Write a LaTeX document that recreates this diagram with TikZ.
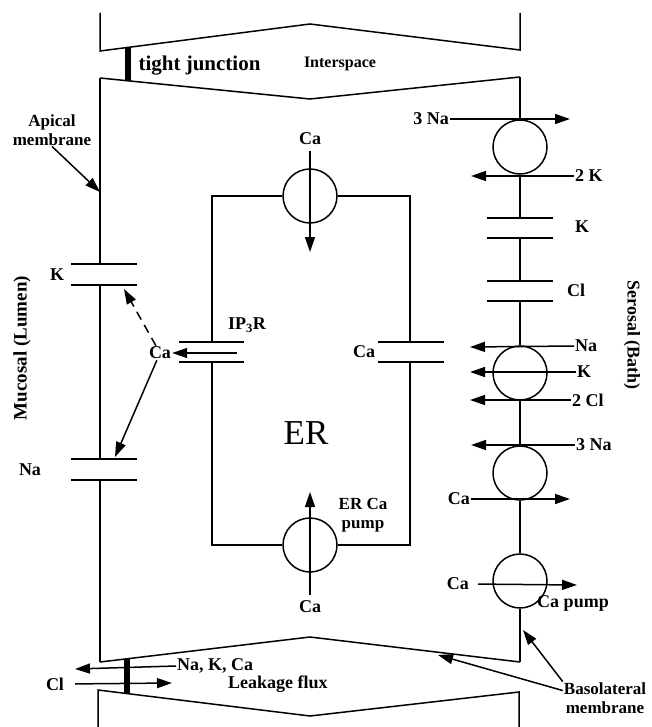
\documentclass[tikz,border=0pt]{standalone}
\usepackage{fontspec}
\setmainfont{Liberation Serif}
\usetikzlibrary{arrows.meta,positioning}
\tikzset{
    membrane/.style={line width=1.5pt},
    junction/.style={line width=5.5pt},
    chanbar/.style={line width=1.5pt},
    pump/.style={circle, draw, line width=1.5pt, minimum size=54pt, inner sep=0pt},
    flux/.style={-{Triangle[length=15pt,width=10pt]}, line width=1.5pt},
    ion/.style={font=\fontsize{18}{19}\selectfont\bfseries, inner sep=1pt},
    twoline/.style={font=\fontsize{17}{18.5}\selectfont\bfseries, inner sep=1pt, align=center}
}

\begin{document}
\begin{tikzpicture}[x=1pt, y=-1pt]
    \useasboundingbox (0,0) rectangle (652,727);

    % Neighbouring cells
    \draw[membrane] (100,13) -- (100,51) -- (310,24) -- (520,50) -- (520,13);
    \draw[membrane] (98,727) -- (98,690) -- (310,716) -- (519,692) -- (519,727);

    % Cell outline, top and bottom
    \draw[membrane] (100,78) -- (310,99) -- (520,77);
    \draw[membrane] (100,662) -- (310,637) -- (520,662);

    % Tight junctions
    \draw[junction] (128,47) -- (128,81);
    \draw[junction] (127,659) -- (127,693);
    \node[font=\fontsize{21}{22}\selectfont\bfseries, anchor=west] (tj) at (135,66) {tight junction};
    \node[font=\fontsize{16}{18}\selectfont\bfseries] (inter) at (340,64) {Interspace};

    % Apical membrane with K and Na channels
    \draw[membrane] (100,78) -- (100,264);
    \draw[chanbar] (71,264) -- (137,264);
    \draw[chanbar] (71,285) -- (137,285);
    \draw[membrane] (100,285) -- (100,459);
    \draw[chanbar] (71,459) -- (137,459);
    \draw[chanbar] (71,480) -- (137,480);
    \draw[membrane] (100,480) -- (100,662);
    \node[ion] (kapi) at (57,275) {K};
    \node[ion] (naapi) at (30,470) {Na};

    % Basolateral membrane with pumps and channels
    \node[pump] (nak) at (520,147) {};
    \node[pump] (nkcc) at (520,373) {};
    \node[pump] (ncx) at (520,473) {};
    \node[pump] (pmca) at (520,581) {};
    \draw[membrane] (520,77) -- (nak.north);
    \draw[membrane] (nak.south) -- (520,218);
    \draw[chanbar] (487,218) -- (553,218);
    \draw[chanbar] (487,238) -- (553,238);
    \draw[membrane] (520,238) -- (520,281);
    \draw[chanbar] (487,281) -- (553,281);
    \draw[chanbar] (487,301) -- (553,301);
    \draw[membrane] (520,301) -- (nkcc.north);
    \draw[membrane] (nkcc.south) -- (ncx.north);
    \draw[membrane] (ncx.south) -- (pmca.north);
    \draw[membrane] (pmca.south) -- (520,662);
    \node[ion] (kbaso) at (582,227) {K};
    \node[ion] (clbaso) at (576,290) {Cl};

    % ER with pumps and channels
    \node[pump] (ertop) at (310,196) {};
    \node[pump] (erbot) at (310,545) {};
    \draw[membrane] (ertop.west) -- (212,196) -- (212,342);
    \draw[chanbar] (179,342) -- (244,342);
    \draw[chanbar] (179,362) -- (244,362);
    \draw[membrane] (212,362) -- (212,545) -- (erbot.west);
    \draw[membrane] (erbot.east) -- (410,545) -- (410,362);
    \draw[chanbar] (378,342) -- (444,342);
    \draw[chanbar] (378,362) -- (444,362);
    \draw[membrane] (410,342) -- (410,196) -- (ertop.east);
    \node[font=\fontsize{35}{36}\selectfont] (er) at (306,433) {ER};
    \node[ion] (ip3r) at (247,325) {IP\textsubscript{3}R};
    \node[ion] (caerch) at (364,352) {Ca};
    \node[twoline] (serca) at (363,515) {ER Ca\\pump};

    % ER Ca fluxes
    \node[ion] (caertop) at (310,139) {Ca};
    \coordinate (ertoptip) at (310,252);
    \draw[flux, shorten <=5pt] (caertop.south) -- (ertoptip);
    \node[ion] (caerbot) at (310,607) {Ca};
    \coordinate (erbottip) at (310,492);
    \draw[flux, shorten <=5pt] (caerbot.north) -- (erbottip);

    % Cytosolic Ca
    \node[ion] (cacyt) at (160,353) {Ca};
    \coordinate (ip3rin) at (237,353);
    \coordinate (kchan) at (124,289);
    \coordinate (nachan) at (115,457);
    \draw[flux] (ip3rin) -- (cacyt.east);
    \draw[flux, dash pattern=on 9pt off 6pt] (cacyt) -- (kchan);
    \draw[flux] (cacyt) -- (nachan);

    % Serosal fluxes
    \node[ion, anchor=east] (na3top) at (450,119) {3 Na};
    \coordinate (na3toptip) at (570,119);
    \draw[flux] (na3top.east) -- (na3toptip);
    \node[ion, anchor=west] (k2) at (574,176) {2 K};
    \coordinate (k2tip) at (471,176);
    \draw[flux] (k2.west) -- (k2tip);
    \node[ion, anchor=west] (nanc) at (574,346) {Na};
    \coordinate (nanctip) at (470,347);
    \draw[flux] (nanc.west) -- (nanctip);
    \node[ion, anchor=west] (knc) at (576,372) {K};
    \coordinate (knctip) at (470,372);
    \draw[flux] (knc.west) -- (knctip);
    \node[ion, anchor=west] (cl2) at (571,400) {2 Cl};
    \coordinate (cl2tip) at (470,400);
    \draw[flux] (cl2.west) -- (cl2tip);
    \node[ion, anchor=west] (na3bot) at (575,445) {3 Na};
    \coordinate (na3bottip) at (471,445);
    \draw[flux] (na3bot.west) -- (na3bottip);
    \node[ion, anchor=east] (cancx) at (471,499) {Ca};
    \coordinate (cancxtip) at (570,499);
    \draw[flux] (cancx.east) -- (cancxtip);
    \node[ion, anchor=east] (capm) at (470,584) {Ca};
    \coordinate (capmtip) at (577,585);
    \draw[flux, shorten <=8pt] (capm.east) -- (capmtip);
    \node[ion] (pmcalbl) at (573,603) {Ca pump};

    % Membrane labels
    \node[twoline] (apical) at (52,130) {Apical\\membrane};
    \coordinate (apicaltip) at (100,192);
    \draw[flux] (apical.south) -- (apicaltip);
    \node[twoline] (baso) at (605,698) {Basolateral\\membrane};
    \coordinate (basotip1) at (523,630);
    \coordinate (basotip2) at (438,655);
    \draw[flux] (baso.north west) -- (basotip1);
    \draw[flux] (baso.170) -- (basotip2);

    % Leakage flux
    \node[ion, anchor=west] (nakca) at (176,666) {Na, K, Ca};
    \coordinate (leakl) at (75,669);
    \draw[flux] (nakca.west) -- (leakl);
    \node[ion] (clleak) at (55,684) {Cl};
    \coordinate (leakr) at (172,683);
    \draw[flux, shorten <=10pt] (clleak.east) -- (leakr);
    \node[ion, anchor=west] (leakflux) at (227,684) {Leakage flux};

    % Sides
    \node[ion, rotate=90, font=\fontsize{19}{20}\selectfont\bfseries] (mucosal) at (22,348) {Mucosal (Lumen)};
    \node[ion, rotate=-90] (serosal) at (632,335) {Serosal (Bath)};

\end{tikzpicture}
\end{document}
